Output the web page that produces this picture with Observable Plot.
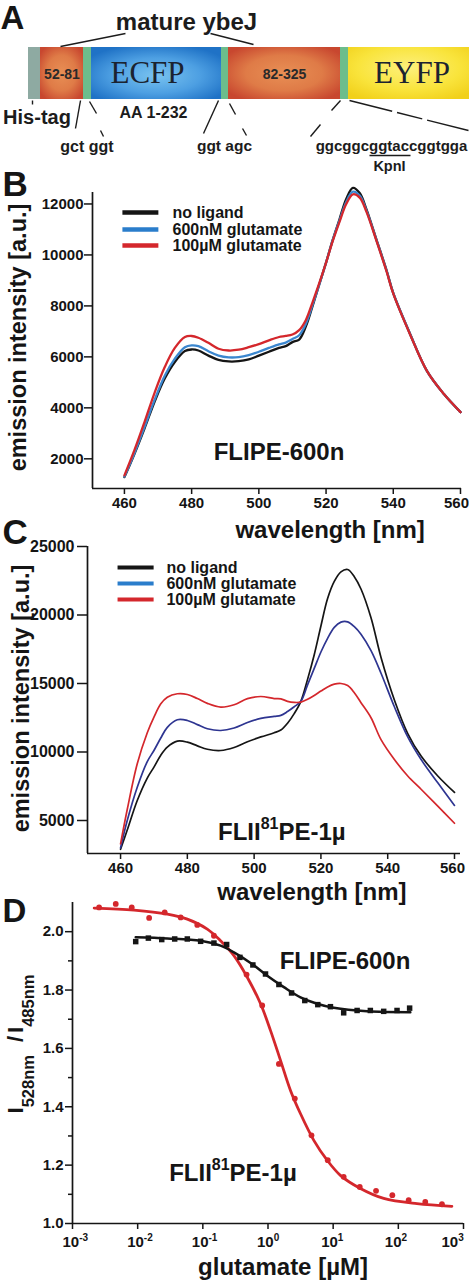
<!DOCTYPE html>
<html>
<head>
<meta charset="utf-8">
<script src="https://cdn.jsdelivr.net/npm/d3@7"></script>
<script src="https://cdn.jsdelivr.net/npm/@observablehq/plot@0.6"></script>
<style>
  html, body { margin: 0; padding: 0; background: #fff; }
  #fig { position: relative; width: 469px; height: 1280px; overflow: hidden; background: #fff; }
  #fig svg { position: absolute; left: 0; overflow: visible; }
</style>
</head>
<body>
<div id="fig"></div>
<script>
// ---------------- DATA ----------------
// Panel A: construct schematic (segment order, labels, boundaries in schematic units)
const segKind  = ["his", "ybej", "link", "ecfp", "link", "ybej", "link", "eyfp"];
const segLabel = ["", "52-81", "", "ECFP", "", "82-325", "", "EYFP"];
const segEdge  = [28, 40, 83, 91, 221, 228, 340, 348, 469];
const annoText = ["mature ybeJ", "His-tag", "AA 1-232", "gct ggt", "ggt agc", "ggcggcggtaccggtgga", "KpnI"];

// Series names
const seriesNames = ["no ligand", "600nM glutamate", "100µM glutamate"];

// Panel B: FLIPE-600n emission spectra
const bWl = [460,463,466,469,472,475,478,480,482,485,488,491,494,497,500,503,506,508,510,512,514,516,518,520,522,524,526,528,530,532,535,538,540,545,550,555,560];
const bNoLigand = [1280,2200,3200,4250,5150,5800,6230,6290,6250,6050,5880,5820,5830,5900,6050,6200,6350,6420,6580,6680,7200,8000,8850,9700,10600,11400,12200,12630,12430,11800,10600,9400,8500,6900,5450,4550,3830];
const bGlu600n  = [1300,2230,3250,4320,5260,5930,6380,6450,6420,6220,6050,5980,5990,6070,6200,6350,6490,6560,6700,6850,7300,8050,8850,9700,10580,11350,12080,12480,12330,11750,10580,9380,8500,6900,5450,4550,3830];
const bGlu100u  = [1350,2350,3450,4600,5600,6350,6780,6820,6750,6550,6320,6250,6280,6380,6500,6650,6780,6820,6880,7050,7450,8150,8900,9700,10550,11300,12000,12380,12250,11700,10550,9350,8480,6880,5450,4550,3830];
const bXTicks = [460, 480, 500, 520, 540, 560];
const bYTicks = [2000, 4000, 6000, 8000, 10000, 12000];

// Panel C: FLII81PE-1µ emission spectra
const cWl = [460,462,465,468,470,472,474,477,480,483,486,490,494,498,502,506,508,510,512,514,516,518,520,522,524,526,528,530,532,535,538,542,546,550,555,560];
const cNoLigand = [2900,4300,6460,8100,8900,9750,10350,10790,10720,10450,10200,10110,10330,10750,11100,11400,11600,12100,12800,13700,15300,17100,19200,21200,22450,23150,23320,22800,21900,19800,16900,13800,11350,9700,8250,7050];
const cGlu600n  = [3000,5000,7430,9300,10110,11000,11800,12350,12300,12000,11700,11570,11750,12150,12450,12600,12670,12950,13300,13700,14900,16100,17300,18300,19100,19480,19500,19150,18600,17400,15750,13300,11100,9450,7750,6100];
const cGlu100u  = [3300,5800,9140,11400,12540,13500,14000,14250,14200,13900,13550,13280,13450,13900,14050,13900,13880,13700,13620,13640,13850,14130,14450,14750,14950,15000,14850,14330,13600,12500,10900,9450,8250,7280,6050,4800];
const cXTicks = [460, 480, 500, 520, 540, 560];
const cYTicks = [5000, 10000, 15000, 20000, 25000];

// Panel D: titration (glutamate concentration in µM, ratio I528/I485)
const dRedConc = [0.00256,0.00461,0.00811,0.0150,0.0260,0.0457,0.0822,0.148,0.469,0.815,1.47,2.58,4.65,8.26,14.5,25.6,45.5,80.9,144,259,467];
const dRedRatio = [2.083,2.095,2.083,2.047,2.066,2.049,2.023,1.986,1.853,1.747,1.547,1.428,1.302,1.217,1.160,1.125,1.112,1.097,1.080,1.074,1.066];
const dRedFitConc = [0.00215,0.00881,0.0286,0.0578,0.117,0.187,0.300,0.480,0.769,1.094,1.556,2.213,3.155,5.047,8.072,12.91,26.18,59.57,193.2,663.7];
const dRedFitRatio = [2.081,2.074,2.060,2.043,2.009,1.969,1.918,1.844,1.753,1.661,1.559,1.456,1.376,1.285,1.217,1.165,1.120,1.086,1.068,1.059];
const dBlkConc = [0.00933,0.0146,0.0234,0.0370,0.0578,0.0925,0.148,0.232,0.371,0.586,0.916,1.47,2.30,3.67,5.81,9.08,14.5,23.3,37.2,59.6,95.5,149];
const dBlkRatio = [1.966,1.978,1.973,1.975,1.975,1.967,1.961,1.956,1.912,1.886,1.855,1.819,1.790,1.764,1.750,1.743,1.722,1.730,1.730,1.727,1.730,1.738];
const dBlkFitConc = [0.00933,0.0286,0.0925,0.187,0.300,0.540,0.973,1.750,3.155,5.675,10.21,33.11,152.8];
const dBlkFitRatio = [1.981,1.977,1.969,1.952,1.929,1.893,1.849,1.810,1.775,1.753,1.739,1.727,1.724];
const dXTicks = [0.001, 0.01, 0.1, 1, 10, 100, 1000];
const dYTicks = [1.0, 1.2, 1.4, 1.6, 1.8, 2.0];
const dYMinor = [1.1, 1.3, 1.5, 1.7, 1.9];

// ---------------- HELPERS ----------------
const FONT = '"Liberation Sans", Arial, Helvetica, sans-serif';
const fig = document.getElementById("fig");
const style = { background: "transparent", fontFamily: FONT, fontWeight: "bold", fontSize: "15px", color: "#141414", overflow: "visible" };
function place(svg, top) { svg.style.top = top + "px"; svg.style.left = "0px"; fig.appendChild(svg); return svg; }
const idx = n => d3.range(n);
function richText(svg, match, parts) {
  d3.select(svg).selectAll("text").each(function () {
    if (this.textContent !== match) return;
    const t = d3.select(this);
    t.text(null);
    parts.forEach(p => {
      const s = t.append("tspan").text(p.t);
      if (p.size) s.attr("font-size", p.size);
      if (p.dy) s.attr("dy", p.dy);
      if (p.dx) s.attr("dx", p.dx);
    });
  });
}
function nudge(svg, label, dx) {
  d3.select(svg).selectAll("text").each(function () {
    if (this.textContent === label) d3.select(this).attr("dx", dx);
  });
}
const BLACK = "#151515", BLUE_LEG = "#2a7dcb", RED = "#d4272c";

// ---------------- PANEL A ----------------
const kindFill = { his: "#8eaaa2", ybej: "url(#gYbej)", link: "#6cbd8c", ecfp: "url(#gEcfp)", eyfp: "url(#gEyfp)" };
const labelShift = { ybej: 0, ecfp: -9, eyfp: 3 };
const annoX = [186, 36.5, 153, 86.5, 224, 391, 389];
const annoY = [22, 117, 112, 146, 146, 146, 166];
const annoSize = [24, 20, 16, 16, 15.5, 15, 14.5];
const lnX1 = [60, 210, 32, 80, 89, 100, 218, 229, 242, 340, 320, 369];
const lnY1 = [46, 33, 100, 100, 101, 130, 100, 103, 128, 100, 124, 155];
const lnX2 = [125, 253, 32, 75, 96, 103, 203, 235, 246, 331, 310, 410];
const lnY2 = [33, 44, 104, 128, 113, 136, 133, 114, 135, 110, 136, 155];
const segIdx = idx(segKind.length);
const aSvg = Plot.plot({
  width: 469, height: 175, margin: 0,
  x: { domain: [0, 469], range: [0, 469], axis: null },
  y: { domain: [0, 175], range: [0, 175], axis: null },
  color: { type: "identity" },
  style,
  marks: [
    Plot.rect(segIdx, { x1: i => segEdge[i], x2: i => segEdge[i + 1], y1: 47, y2: 99, fill: i => kindFill[segKind[i]] }),
    Plot.text(segIdx.filter(i => segKind[i] === "ybej"), { x: i => (segEdge[i] + segEdge[i + 1]) / 2, y: 74, text: i => segLabel[i], fontSize: 14, fill: "#2a2a2a" }),
    Plot.text(segIdx.filter(i => segKind[i] === "ecfp" || segKind[i] === "eyfp"), { x: i => (segEdge[i] + segEdge[i + 1]) / 2 + labelShift[segKind[i]], y: 73, text: i => segLabel[i], fontSize: 31, fontFamily: '"Liberation Serif", "Times New Roman", serif', fontWeight: "normal", fill: "#1b2330" }),
    Plot.text(["A"], { x: 0, y: 18, textAnchor: "start", fontSize: 33, fill: BLACK }),
    Plot.text(idx(annoText.length), { x: i => annoX[i], y: i => annoY[i], text: i => annoText[i], fontSize: i => annoSize[i], fill: "#1c1c1c" }),
    Plot.link(idx(12), { x1: i => lnX1[i], y1: i => lnY1[i], x2: i => lnX2[i], y2: i => lnY2[i], stroke: "#1c1c1c", strokeWidth: 1.4 }),
    Plot.link([0], { x1: 349, y1: 100, x2: 468, y2: 130, stroke: "#1c1c1c", strokeWidth: 1.4, strokeDasharray: "44 5 26 5" })
  ]
});
{
  const defs = d3.select(aSvg).insert("defs", ":first-child");
  const radial = (id, stops, cy = "50%", r = "62%") => {
    const g = defs.append("radialGradient").attr("id", id).attr("cx", "50%").attr("cy", cy).attr("r", r);
    stops.forEach(([o, c]) => g.append("stop").attr("offset", o).attr("stop-color", c));
  };
  radial("gYbej", [["0%", "#e88f55"], ["55%", "#df7b47"], ["100%", "#c8472f"]]);
  radial("gEcfp", [["0%", "#79c3f0"], ["55%", "#4d9fe2"], ["100%", "#1f72c6"]], "55%");
  radial("gEyfp", [["0%", "#fdf07c"], ["60%", "#f9e43c"], ["100%", "#f1d01a"]], "40%", "70%");
}
place(aSvg, 0);

// ---------------- PANEL B ----------------
const bSvg = Plot.plot({
  width: 469, height: 365, marginLeft: 92, marginRight: 8, marginTop: 22, marginBottom: 47,
  x: { domain: [450.5, 560.3] },
  y: { domain: [835, 12450] },
  color: { type: "identity" },
  style,
  marks: [
    Plot.ruleX([450.5], { stroke: BLACK, strokeWidth: 1.7 }),
    Plot.ruleY([835], { stroke: BLACK, strokeWidth: 1.7 }),
    Plot.axisY({ ticks: bYTicks, tickSize: 8, tickPadding: 1, tickFormat: d => `${d}`, label: null, fontSize: 15, strokeWidth: 1.5, stroke: BLACK }),
    Plot.axisX({ ticks: bXTicks, tickSize: 6, tickPadding: 3, tickFormat: d => `${d}`, label: null, fontSize: 15, strokeWidth: 1.5, stroke: BLACK }),
    Plot.line(bWl, { x: d => d, y: (d, i) => bNoLigand[i], stroke: BLACK, strokeWidth: 2.3, curve: "catmull-rom" }),
    Plot.line(bWl, { x: d => d, y: (d, i) => bGlu600n[i], stroke: "#3b87cf", strokeWidth: 2.3, curve: "catmull-rom" }),
    Plot.line(bWl, { x: d => d, y: (d, i) => bGlu100u[i], stroke: RED, strokeWidth: 2.3, curve: "catmull-rom" }),
    Plot.link(idx(3), { x1: 459.4, x2: 470.1, y1: i => [11667, 11000, 10372][i], y2: i => [11667, 11000, 10372][i], stroke: i => [BLACK, BLUE_LEG, RED][i], strokeWidth: 4.5 }),
    Plot.text(idx(3), { x: 474.3, y: i => [11667, 11000, 10372][i], text: i => seriesNames[i], textAnchor: "start", fontSize: 16, fill: BLACK }),
    Plot.text(["FLIPE-600n"], { x: 506, y: 2260, fontSize: 24, fill: BLACK }),
    Plot.text(["wavelength [nm]"], { x: 521.2, frameAnchor: "bottom", lineAnchor: "middle", dy: 42, fontSize: 24, fill: BLACK }),
    Plot.text(["emission intensity [a.u.]"], { frameAnchor: "left", textAnchor: "middle", lineAnchor: "middle", rotate: -90, dx: -74, dy: -3, fontSize: 23.5, fill: BLACK }),
    Plot.text(["B"], { frameAnchor: "top-left", textAnchor: "start", lineAnchor: "middle", dx: -90, dy: -8, fontSize: 35, fill: BLACK })
  ]
});
nudge(bSvg, "560", -4);
place(bSvg, 170);

// ---------------- PANEL C ----------------
const cSvg = Plot.plot({
  width: 469, height: 395, marginLeft: 87, marginRight: 9, marginTop: 41, marginBottom: 47,
  x: { domain: [450.1, 561.8] },
  y: { domain: [2591, 25000] },
  color: { type: "identity" },
  style,
  marks: [
    Plot.ruleX([450.1], { stroke: BLACK, strokeWidth: 1.7 }),
    Plot.ruleY([2591], { stroke: BLACK, strokeWidth: 1.7 }),
    Plot.axisY({ ticks: cYTicks, tickSize: 10, tickPadding: 3, tickFormat: d => `${d}`, label: null, fontSize: 16, strokeWidth: 1.5, stroke: BLACK }),
    Plot.axisX({ ticks: cXTicks, tickSize: 6, tickPadding: 3, tickFormat: d => `${d}`, label: null, fontSize: 15, strokeWidth: 1.5, stroke: BLACK }),
    Plot.line(cWl, { x: d => d, y: (d, i) => cNoLigand[i], stroke: BLACK, strokeWidth: 1.7, curve: "catmull-rom" }),
    Plot.line(cWl, { x: d => d, y: (d, i) => cGlu600n[i], stroke: "#2e3591", strokeWidth: 1.7, curve: "catmull-rom" }),
    Plot.line(cWl, { x: d => d, y: (d, i) => cGlu100u[i], stroke: RED, strokeWidth: 1.7, curve: "catmull-rom" }),
    Plot.link(idx(3), { x1: 459.1, x2: 469.9, y1: i => [23467, 22299, 21131][i], y2: i => [23467, 22299, 21131][i], stroke: i => [BLACK, BLUE_LEG, RED][i], strokeWidth: 4.2 }),
    Plot.text(idx(3), { x: 473.75, y: i => [23467, 22299, 21131][i], text: i => seriesNames[i], textAnchor: "start", fontSize: 16, fill: BLACK }),
    Plot.text(["FLII81PE-1µ"], { x: 508.3, y: 4124, fontSize: 24, fill: BLACK }),
    Plot.text(["wavelength [nm]"], { x: 517.3, frameAnchor: "bottom", lineAnchor: "middle", dy: 39, fontSize: 24, fill: BLACK }),
    Plot.text(["emission intensity [a.u.]"], { frameAnchor: "left", textAnchor: "middle", lineAnchor: "middle", rotate: -90, dx: -66.5, dy: -1.5, fontSize: 23.5, fill: BLACK }),
    Plot.text(["C"], { frameAnchor: "top-left", textAnchor: "start", lineAnchor: "middle", dx: -85, dy: -14, fontSize: 35, fill: BLACK })
  ]
});
richText(cSvg, "FLII81PE-1µ", [{ t: "FLII" }, { t: "81", size: 16, dy: -11 }, { t: "PE-1µ", dy: 11 }]);
nudge(cSvg, "560", -2);
place(cSvg, 505);

// ---------------- PANEL D ----------------
const dSvg = Plot.plot({
  width: 469, height: 385, marginLeft: 72, marginRight: 6, marginTop: 7, marginBottom: 57,
  x: { type: "log", domain: [1e-3, 1e3] },
  y: { domain: [1.0, 2.1] },
  style,
  marks: [
    Plot.ruleX([1e-3], { stroke: BLACK, strokeWidth: 1.7 }),
    Plot.ruleY([1.0], { stroke: BLACK, strokeWidth: 1.7 }),
    Plot.axisY({ ticks: dYTicks, tickSize: 7, tickPadding: 2, tickFormat: d3.format(".1f"), label: null, fontSize: 15, strokeWidth: 1.5, stroke: BLACK }),
    Plot.axisY({ ticks: dYMinor, tickSize: 4, tickFormat: () => "", label: null, strokeWidth: 1.5, stroke: BLACK }),
    Plot.axisX({ ticks: dXTicks, tickSize: 6, tickPadding: 7, tickFormat: d => `10^${Math.round(Math.log10(d))}`, label: null, fontSize: 15, strokeWidth: 1.5, stroke: BLACK }),
    Plot.line(dRedFitConc, { x: d => d, y: (d, i) => dRedFitRatio[i], stroke: RED, strokeWidth: 2.8, curve: "catmull-rom" }),
    Plot.dot(dRedConc, { x: d => d, y: (d, i) => dRedRatio[i], r: 2.9, fill: RED }),
    Plot.line(dBlkFitConc, { x: d => d, y: (d, i) => dBlkFitRatio[i], stroke: BLACK, strokeWidth: 2.5, curve: "catmull-rom" }),
    Plot.dot(dBlkConc, { x: d => d, y: (d, i) => dBlkRatio[i], r: 3.1, symbol: "square", fill: BLACK }),
    Plot.text(["FLIPE-600n"], { x: 15.2, y: 1.90, fontSize: 24, fill: BLACK }),
    Plot.text(["FLII81PE-1µ"], { x: 0.29, y: 1.171, fontSize: 24, fill: BLACK }),
    Plot.text(["glutamate [µM]"], { x: 1.7, frameAnchor: "bottom", lineAnchor: "middle", dy: 44, fontSize: 24, fill: BLACK }),
    Plot.text(["I528nm / I485nm"], { frameAnchor: "left", textAnchor: "middle", lineAnchor: "middle", rotate: -90, dx: -57, dy: -19, fontSize: 22, fill: BLACK }),
    Plot.text(["D"], { frameAnchor: "top-left", textAnchor: "start", lineAnchor: "middle", dx: -70, dy: 9.4, fontSize: 33, fill: BLACK })
  ]
});
richText(dSvg, "FLII81PE-1µ", [{ t: "FLII" }, { t: "81", size: 16, dy: -11 }, { t: "PE-1µ", dy: 11 }]);
richText(dSvg, "I528nm / I485nm", [
  { t: "I" }, { t: "528nm", size: 16.5, dy: 11 },
  { t: "/", dy: -11, dx: 13 }, { t: "I", dx: 3 },
  { t: "485nm", size: 16.5, dy: 11 }
]);
{
  const tickShift = [-1.5, -2, -2.5, -2.5, -3.5, -5, -13.5];
  let k = 0;
  d3.select(dSvg).selectAll("text").each(function () {
    const m = /^10\^(-?\d+)$/.exec(this.textContent);
    if (!m) return;
    const t = d3.select(this);
    t.text(null).attr("text-anchor", "start").attr("dx", -8.5 + (tickShift[k++] || 0));
    t.append("tspan").text("10");
    t.append("tspan").attr("font-size", 10).attr("dy", -6).text(m[1]);
  });
}
place(dSvg, 895);
</script>
</body>
</html>
